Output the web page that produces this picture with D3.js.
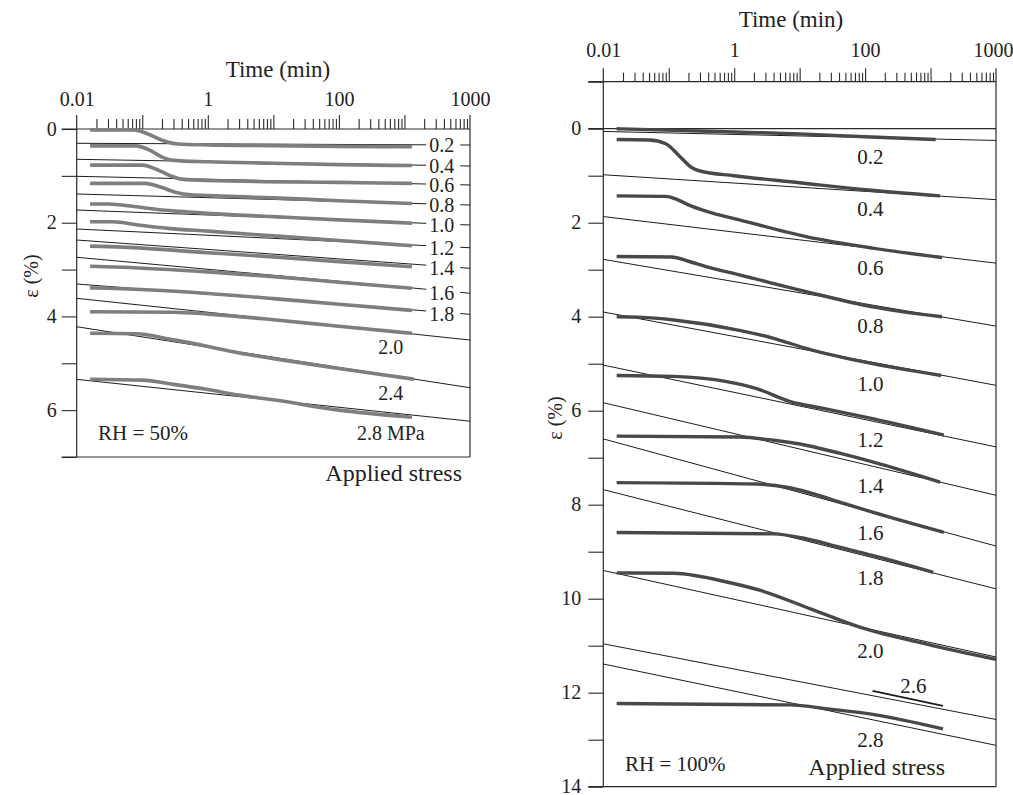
<!DOCTYPE html>
<html><head><meta charset="utf-8">
<script src="https://cdn.jsdelivr.net/npm/d3@7"></script>
<style>
body{margin:0;background:#fff}
svg{display:block}
text{font-family:"Liberation Serif","Times New Roman",serif;fill:#222}
</style>
</head><body><svg id="c" width="1013" height="795"></svg>
<script>
// ---------------- DATA ----------------
const timeTickValues = [0.01, 1, 100, 10000];
const timeTickLabels = ["0.01", "1", "100", "1000"];
const fitTimes = [0.01, 10000];

// Left panel, RH = 50%
const leftStress = ["0.2","0.4","0.6","0.8","1.0","1.2","1.4","1.6","1.8","2.0","2.4","2.8"];
const leftCurves = [
  [[0.016,0.02],[0.075,0.02],[0.12,0.1],[0.2,0.24],[0.35,0.32],[1,0.34],[10,0.355],[100,0.37],[1300,0.38]],
  [[0.016,0.36],[0.08,0.36],[0.13,0.45],[0.2,0.6],[0.3,0.67],[1,0.7],[10,0.73],[100,0.76],[1300,0.78]],
  [[0.016,0.77],[0.1,0.77],[0.17,0.87],[0.27,1.0],[0.4,1.07],[1,1.1],[100,1.14],[1300,1.16]],
  [[0.016,1.16],[0.11,1.16],[0.2,1.25],[0.32,1.35],[0.5,1.4],[1,1.42],[10,1.47],[100,1.53],[1300,1.59]],
  [[0.016,1.6],[0.03,1.6],[0.08,1.66],[0.2,1.73],[0.5,1.77],[1,1.8],[10,1.87],[100,1.94],[1300,2.01]],
  [[0.016,1.98],[0.035,1.98],[0.1,2.06],[0.25,2.12],[1,2.18],[10,2.28],[100,2.38],[1300,2.49]],
  [[0.016,2.5],[0.05,2.52],[1,2.64],[10,2.73],[100,2.83],[1300,2.94]],
  [[0.016,2.93],[0.05,2.95],[1,3.05],[10,3.15],[100,3.27],[1300,3.4]],
  [[0.016,3.39],[0.05,3.41],[1,3.51],[10,3.62],[100,3.74],[1300,3.87]],
  [[0.016,3.9],[0.3,3.91],[1,3.95],[10,4.07],[100,4.21],[1300,4.36]],
  [[0.016,4.36],[0.08,4.37],[0.3,4.5],[1,4.64],[3,4.78],[10,4.9],[100,5.11],[1400,5.34]],
  [[0.016,5.34],[0.1,5.36],[0.3,5.45],[1,5.56],[3,5.68],[10,5.78],[100,6.0],[1300,6.15]]
];
const leftFitStart = [0.305,0.647,1.01,1.387,1.729,2.134,2.369,2.738,3.308,3.614,4.22,5.343];
const leftFitEnd   = [0.342,0.79,1.195,1.622,2.049,2.534,2.973,3.506,3.955,4.504,5.522,6.236];
const leftLabelText = ["0.2","0.4","0.6","0.8","1.0","1.2","1.4","1.6","1.8","2.0","2.4","2.8 MPa"];
const leftLabelT    = [3700,3700,3700,3700,3700,3700,3700,3700,3700,620,620,620];
const leftLabelEps  = [0.342,0.79,1.195,1.622,2.049,2.534,2.973,3.506,3.955,4.65,5.63,6.49];

// Right panel, RH = 100%
const rightStress = ["0.2","0.4","0.6","0.8","1.0","1.2","1.4","1.6","1.8","2.0","2.6","2.8"];
const rightCurves = [
  [[0.016,0.0],[1,0.07],[10,0.11],[100,0.17],[1200,0.23]],
  [[0.016,0.23],[0.05,0.24],[0.09,0.32],[0.15,0.6],[0.22,0.82],[0.3,0.9],[1,1.0],[10,1.15],[100,1.3],[1400,1.43]],
  [[0.016,1.43],[0.09,1.44],[0.13,1.5],[0.2,1.62],[0.38,1.76],[1.2,1.94],[13,2.3],[130,2.54],[1500,2.74]],
  [[0.016,2.72],[0.11,2.73],[0.2,2.82],[0.38,2.94],[1.2,3.11],[13,3.47],[130,3.79],[1500,4.0]],
  [[0.016,4.0],[0.035,4.01],[0.12,4.07],[1.2,4.29],[4,4.46],[13,4.68],[130,5.0],[1450,5.25]],
  [[0.016,5.25],[0.12,5.27],[0.7,5.37],[2.2,5.53],[7,5.8],[23,5.95],[130,6.17],[1600,6.52]],
  [[0.016,6.54],[1.2,6.56],[4,6.63],[13,6.74],[42,6.91],[130,7.09],[1400,7.52]],
  [[0.016,7.53],[2.2,7.56],[7,7.64],[13,7.73],[42,7.95],[130,8.16],[1600,8.59]],
  [[0.016,8.59],[4,8.62],[13,8.73],[42,8.91],[130,9.08],[1100,9.44]],
  [[0.016,9.45],[0.12,9.46],[0.8,9.65],[2.6,9.83],[15,10.22],[90,10.62],[900,10.97],[10000,11.29]],
  [[130,11.96],[1550,12.28]],
  [[0.016,12.23],[7,12.26],[29,12.35],[130,12.46],[1550,12.77]]
];
const rightFitStart = [0.058,0.98,1.87,2.78,3.9,5.03,5.83,6.6,7.68,9.4,10.96,11.39];
const rightFitEnd   = [0.25,1.51,2.86,4.2,5.46,6.77,7.8,8.88,9.79,11.24,12.57,13.12];
const rightLabelText = ["0.2","0.4","0.6","0.8","1.0","1.2","1.4","1.6","1.8","2.0","2.6","2.8"];
const rightLabelT    = [120,120,120,120,120,120,120,120,120,120,545,120];
const rightLabelEps  = [0.59,1.71,2.95,4.2,5.42,6.62,7.59,8.59,9.55,11.11,11.86,13.0];

// ---------------- DRAWING ----------------
const svg = d3.select("#c");
const AX = "#2a2a2a";

function panel(cfg) {
  const x = d3.scaleLog().domain([0.01, 10000]).range(cfg.xr);
  const y = d3.scaleLinear().domain(cfg.yd).range(cfg.yr);
  const g = svg.append("g");
  const allTicks = x.ticks();
  const isMajor = d => Math.abs(Math.log10(d) - Math.round(Math.log10(d))) < 1e-9;
  const minor = allTicks.filter(d => !isMajor(d));
  const major = allTicks.filter(d => isMajor(d) && d > 0.01 && d < 10000);
  const top = y(cfg.yd[0]);

  function styleAxis(sel) {
    sel.select(".domain").remove();
    sel.selectAll(".tick line").attr("stroke", AX).attr("stroke-width", 1.1);
    sel.attr("font-family", null).attr("font-size", null);
  }
  g.append("g").attr("transform", `translate(0,${top})`)
    .call(d3.axisTop(x).tickValues(minor).tickSize(cfg.minorLen).tickFormat(""))
    .call(styleAxis);
  g.append("g").attr("transform", `translate(0,${top})`)
    .call(d3.axisTop(x).tickValues(major).tickSize(cfg.majorLen).tickFormat(""))
    .call(styleAxis);
  const lab = g.append("g").attr("transform", `translate(0,${top})`)
    .call(d3.axisTop(x).tickValues(timeTickValues).tickSize(0).tickPadding(cfg.xLabGap)
      .tickFormat((d, i) => timeTickLabels[i]))
    .call(styleAxis);
  lab.selectAll("text").style("font-size", "20px").attr("fill", "#222")
    .attr("dx", (d, i) => i === timeTickValues.length - 1 ? cfg.lastDx : 0);

  // y axis
  const ya = g.append("g").attr("transform", `translate(${cfg.xr[0]},0)`)
    .call(d3.axisLeft(y).tickValues(d3.range(cfg.yd[0], cfg.yd[1] + 1)).tickSize(15).tickPadding(cfg.yPad)
      .tickFormat(d => (d >= 0 && d % 2 === 0) ? d : ""))
    .call(styleAxis);
  ya.selectAll("text").style("font-size", "20px").attr("fill", "#222").attr("dy", "0.3em");

  // frame
  const frame = g.append("g").attr("stroke", AX).attr("stroke-width", 1.2);
  [cfg.xr[0], cfg.xr[1]].forEach(xx =>
    frame.append("line").attr("x1", xx).attr("x2", xx)
      .attr("y1", top - cfg.majorLen).attr("y2", y(cfg.yd[1])));
  cfg.hLines.forEach(v =>
    frame.append("line").attr("x1", cfg.xr[0] - 15).attr("x2", cfg.xr[1])
      .attr("y1", y(v)).attr("y2", y(v)));

  // fit lines
  const fits = g.append("g").attr("stroke", "#1c1c1c").attr("stroke-width", 1).attr("fill", "none");
  cfg.fitStart.forEach((s, i) => {
    fits.append("line")
      .attr("x1", x(fitTimes[0])).attr("y1", y(s))
      .attr("x2", x(fitTimes[1])).attr("y2", y(cfg.fitEnd[i]));
  });

  // curves
  const line = d3.line().x(d => x(d[0])).y(d => y(d[1])).curve(d3.curveMonotoneX);
  cfg.curves.forEach((c, i) => {
    const thin = cfg.thin && cfg.thin.includes(cfg.stress[i]);
    g.append("path").attr("d", line(c)).attr("fill", "none")
      .attr("stroke", thin ? "#1c1c1c" : cfg.color)
      .attr("stroke-width", thin ? 1.8 : cfg.curveW)
      .attr("stroke-linecap", "butt");
  });

  // labels
  cfg.labText.forEach((t, i) => {
    const cx = x(cfg.labT[i]), cy = y(cfg.labE[i]);
    const gg = g.append("g");
    const tx = gg.append("text").attr("x", cx).attr("y", cy).attr("dy", "0.35em")
      .attr("text-anchor", "middle").style("font-size", cfg.labSize).text(t);
    if (cfg.bgLabels && i < cfg.bgLabels) {
      const bb = tx.node().getBBox();
      gg.insert("rect", "text").attr("x", bb.x - 3).attr("y", cy - 7)
        .attr("width", bb.width + 9).attr("height", 14).attr("fill", "#fff");
    }
  });

  // titles
  g.append("text").attr("x", cfg.titleX).attr("y", cfg.titleY).attr("text-anchor", "middle")
    .style("font-size", "23px").text("Time (min)");
  g.append("text").attr("transform", `translate(${cfg.yLabX},${cfg.yLabY}) rotate(-90)`)
    .attr("text-anchor", "middle").style("font-size", "20px").text("ε (%)");
  g.append("text").attr("x", cfg.rhX).attr("y", cfg.rhY).style("font-size", "21px").text(cfg.rh);
  g.append("text").attr("x", cfg.asX).attr("y", cfg.asY).attr("text-anchor", "end")
    .style("font-size", "24px").text("Applied stress");
}

panel({
  xr: [76.7, 470], yd: [0, 7], yr: [129, 457], minorLen: 10, majorLen: 14, xLabGap: 23, yPad: 5, lastDx: 0,
  hLines: [0, 7], fitStart: leftFitStart, fitEnd: leftFitEnd, curves: leftCurves, stress: leftStress,
  color: "#7e7e7e", curveW: 3.6, labSize: "20px",
  labText: leftLabelText, labT: leftLabelT, labE: leftLabelEps, bgLabels: 9,
  titleX: 278, titleY: 77, yLabX: 38, yLabY: 276,
  rh: "RH = 50%", rhX: 98, rhY: 440, asX: 462, asY: 481
});
panel({
  xr: [603.3, 996], yd: [-1, 14], yr: [81.7, 786.7], minorLen: 9, majorLen: 13.5, xLabGap: 24.5, yPad: 7, lastDx: -3,
  hLines: [-1, 0, 14], fitStart: rightFitStart, fitEnd: rightFitEnd, curves: rightCurves, stress: rightStress,
  color: "#484848", curveW: 3.4, thin: ["2.6"], labSize: "21px",
  labText: rightLabelText, labT: rightLabelT, labE: rightLabelEps,
  titleX: 791, titleY: 27, yLabX: 562, yLabY: 418,
  rh: "RH = 100%", rhX: 625, rhY: 771, asX: 945, asY: 775
});
</script>
</body></html>
